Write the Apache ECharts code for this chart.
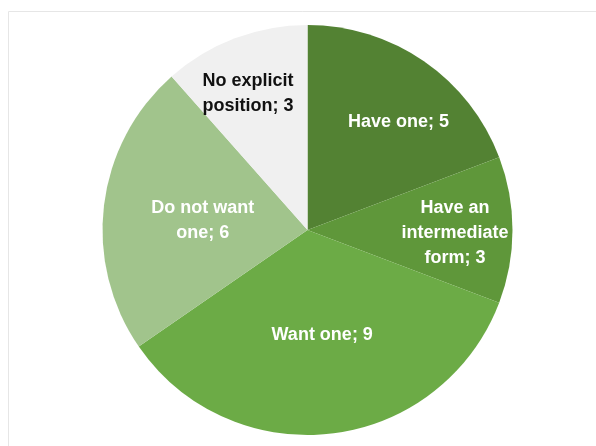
<!DOCTYPE html>
<html>
<head>
<meta charset="utf-8">
<script src="https://cdn.jsdelivr.net/npm/echarts@6/dist/echarts.min.js"></script>
<style>
html,body{margin:0;padding:0;background:#fff;}
#c{width:596px;height:446px;}
</style>
</head>
<body>
<div id="c"></div>
<script>
var categories = ["Have one", "Have an\nintermediate\nform", "Want one", "Do not want\none", "No explicit\nposition"];
var values = [5, 3, 9, 6, 3];

var colors = ["#538233", "#5f973a", "#6cab46", "#a1c48c", "#f0f0f0"];
var labelColors = ["#ffffff", "#ffffff", "#ffffff", "#ffffff", "#111111"];
var labelOffsets = [[31, -21], [42, 3], [2, 0], [0, 3], [-22, -38]];

var chart = echarts.init(document.getElementById('c'), null, {renderer: 'canvas'});
var data = categories.map(function (name, i) {
  return {
    name: name,
    value: values[i],
    itemStyle: {color: colors[i]},
    label: {color: labelColors[i], offset: labelOffsets[i]}
  };
});
chart.setOption({
  animation: false,
  backgroundColor: '#ffffff',
  graphic: [{
    type: 'rect',
    shape: {x: 8.5, y: 11.5, width: 700, height: 700},
    style: {fill: null, stroke: '#e6e6e6', lineWidth: 1},
    silent: true,
    z: -10
  }],
  series: [{
    type: 'pie',
    center: [307.5, 230],
    radius: [0, 205],
    startAngle: 90,
    clockwise: true,
    avoidLabelOverlap: false,
    label: {
      show: true,
      position: 'inside',
      formatter: '{b}; {c}',
      fontFamily: 'Liberation Sans, Arial, sans-serif',
      fontSize: 18,
      fontWeight: 'bold',
      lineHeight: 25,
      align: 'center'
    },
    labelLine: {show: false},
    itemStyle: {borderWidth: 0},
    emphasis: {disabled: true},
    data: data
  }]
});
</script>
</body>
</html>
